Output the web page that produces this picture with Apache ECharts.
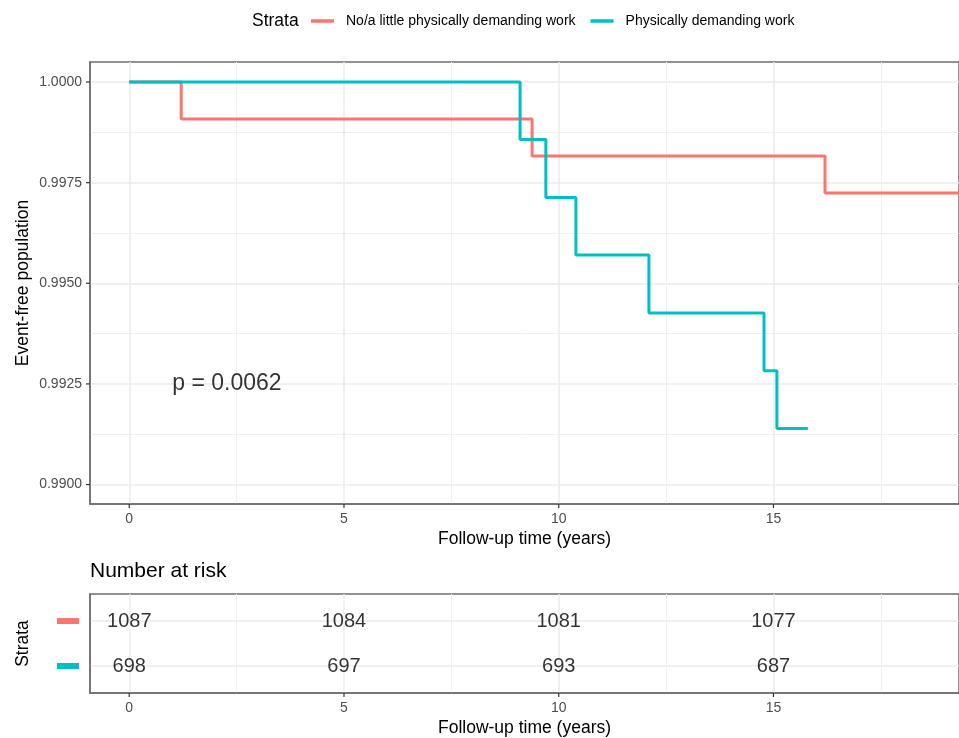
<!DOCTYPE html>
<html>
<head>
<meta charset="utf-8">
<script src="https://cdn.jsdelivr.net/npm/echarts@6/dist/echarts.min.js"></script>
<style>html,body{margin:0;padding:0;background:#fff}#c{width:959px;height:738px}</style>
</head>
<body>
<div id="c"></div>
<script>
const strataNames = ['No/a little physically demanding work', 'Physically demanding work'];
const strataColors = ['#F8766D', '#00BFC4'];
const xTicks = [0, 5, 10, 15];
const xMinorTicks = [2.5, 7.5, 12.5, 17.5];
const yTicks = [0.99, 0.9925, 0.995, 0.9975, 1.0];
const yMinorTicks = [0.99125, 0.99375, 0.99625, 0.99875];
const redTimes = [0, 1.21, 9.38, 16.2, 19.4];
const redSurv = [1.0, 0.99908, 0.99816, 0.99724, 0.99724];
const cyanTimes = [0, 9.1, 9.7, 10.4, 12.1, 14.78, 15.08, 15.8];
const cyanSurv = [1.0, 0.99857, 0.99713, 0.99570, 0.99426, 0.99283, 0.99139, 0.99139];
const pValueText = 'p = 0.0062';
const pValuePos = [1.0, 0.9925];
const riskTimes = [0, 5, 10, 15];
const riskRed = [1087, 1084, 1081, 1077];
const riskCyan = [698, 697, 693, 687];
const riskRows = [2, 1];

const FONT = 'Liberation Sans, Arial, Helvetica, sans-serif';
const X_MIN = -0.914, X_MAX = 19.32;
const Y_MIN = 0.989517, Y_MAX = 1.0004975;
const R_MIN = 0.4, R_MAX = 2.6;
const BORDER = '#6e6e6e';
const TICK = '#333333';
const TICK_LEN = 4;

function majorX(grid, withName) {
  return {
    type: 'value', gridIndex: grid, min: X_MIN, max: X_MAX, position: 'bottom',
    axisLine: {show: true, onZero: false, lineStyle: {color: BORDER, width: 1.5}},
    axisTick: {show: false, customValues: xTicks},
    axisLabel: {customValues: xTicks, margin: 8, fontSize: 14, color: '#4d4d4d', fontFamily: FONT},
    splitLine: {show: true, customValues: xTicks, lineStyle: {color: '#ebebeb', width: 1.5}},
    name: withName, nameLocation: 'middle', nameGap: 26, nameMoveOverlap: false,
    nameTextStyle: {color: '#000', fontSize: 17.5, fontFamily: FONT}
  };
}
function minorX(grid) {
  return {
    type: 'value', gridIndex: grid, min: X_MIN, max: X_MAX, position: 'bottom',
    axisLine: {show: false, onZero: false},
    axisTick: {show: false, customValues: xMinorTicks},
    axisLabel: {show: false, customValues: xMinorTicks},
    splitLine: {show: true, customValues: xMinorTicks, lineStyle: {color: '#f0f0f0', width: 1}}
  };
}
function xTickSeries(xAxisIndex, yAxisIndex, yBottom) {
  return {
    type: 'custom', xAxisIndex, yAxisIndex, clip: false, silent: true, z: 10,
    data: xTicks.map(v => [v, yBottom]),
    encode: {x: 0, y: 1},
    renderItem: (params, api) => {
      const c = api.coord([api.value(0), api.value(1)]);
      return {type: 'line', shape: {x1: c[0], y1: c[1], x2: c[0], y2: c[1] + TICK_LEN}, style: {stroke: TICK, lineWidth: 1.2}};
    }
  };
}

const chart = echarts.init(document.getElementById('c'), null, {renderer: 'canvas'});
const option = {
  animation: false,
  backgroundColor: '#fff',
  textStyle: {fontFamily: FONT},
  title: [
    {text: 'Strata', left: 252, top: 12, padding: 0, textStyle: {fontSize: 17.5, fontWeight: 'normal', color: '#000', fontFamily: FONT}},
    {text: 'Number at risk', left: 90, top: 561, padding: 0, textStyle: {fontSize: 21, fontWeight: 'normal', color: '#000', fontFamily: FONT}}
  ],
  legend: {
    data: strataNames, left: 311, top: 14, padding: 0, itemGap: 15,
    icon: 'rect', itemWidth: 23, itemHeight: 3.5,
    textStyle: {fontSize: 14, color: '#000', fontFamily: FONT, padding: [0, 0, 0, 7]}
  },
  grid: [
    {left: 90, top: 62, width: 872, height: 442, show: true, borderColor: BORDER, borderWidth: 1.5, backgroundColor: 'transparent'},
    {left: 90, top: 594, width: 872, height: 99, show: true, borderColor: BORDER, borderWidth: 1.5, backgroundColor: 'transparent'}
  ],
  xAxis: [
    majorX(0, 'Follow-up time (years)'), minorX(0),
    majorX(1, 'Follow-up time (years)'), minorX(1)
  ],
  yAxis: [
    {
      type: 'value', gridIndex: 0, min: Y_MIN, max: Y_MAX, position: 'left',
      axisLine: {show: true, onZero: false, lineStyle: {color: BORDER, width: 1.5}},
      axisTick: {show: false, customValues: yTicks},
      axisLabel: {customValues: yTicks, margin: 8, fontSize: 14, color: '#4d4d4d', fontFamily: FONT, formatter: v => v.toFixed(4)},
      splitLine: {show: true, customValues: yTicks, lineStyle: {color: '#ebebeb', width: 1.5}},
      name: 'Event-free population', nameLocation: 'middle', nameRotate: 90, nameGap: 58, nameMoveOverlap: false,
      nameTextStyle: {color: '#000', fontSize: 17.5, fontFamily: FONT}
    },
    {
      type: 'value', gridIndex: 0, min: Y_MIN, max: Y_MAX, position: 'left',
      axisLine: {show: false, onZero: false},
      axisTick: {show: false, customValues: yMinorTicks},
      axisLabel: {show: false, customValues: yMinorTicks},
      splitLine: {show: true, customValues: yMinorTicks, lineStyle: {color: '#f0f0f0', width: 1}}
    },
    {
      type: 'value', gridIndex: 1, min: R_MIN, max: R_MAX, position: 'left',
      axisLine: {show: true, onZero: false, lineStyle: {color: BORDER, width: 1.5}},
      axisTick: {show: false, customValues: riskRows},
      axisLabel: {
        customValues: riskRows, margin: 11,
        formatter: v => (v === 2 ? '{r| }' : '{c| }'),
        rich: {
          r: {backgroundColor: strataColors[0], width: 22, height: 6, lineHeight: 6, fontSize: 1},
          c: {backgroundColor: strataColors[1], width: 22, height: 6, lineHeight: 6, fontSize: 1}
        }
      },
      splitLine: {show: true, customValues: riskRows, lineStyle: {color: '#ebebeb', width: 1.5}},
      name: 'Strata', nameLocation: 'middle', nameRotate: 90, nameGap: 58, nameMoveOverlap: false,
      nameTextStyle: {color: '#000', fontSize: 17.5, fontFamily: FONT}
    }
  ],
  series: [
    {
      name: strataNames[0], type: 'line', xAxisIndex: 0, yAxisIndex: 0, step: 'end',
      showSymbol: false, symbol: 'none', clip: true, color: strataColors[0],
      lineStyle: {color: strataColors[0], width: 3},
      data: redTimes.map((t, i) => [t, redSurv[i]])
    },
    {
      name: strataNames[1], type: 'line', xAxisIndex: 0, yAxisIndex: 0, step: 'end',
      showSymbol: false, symbol: 'none', clip: true, color: strataColors[1],
      lineStyle: {color: strataColors[1], width: 3},
      data: cyanTimes.map((t, i) => [t, cyanSurv[i]])
    },
    {
      type: 'scatter', xAxisIndex: 0, yAxisIndex: 0, symbolSize: 0, silent: true,
      data: [pValuePos],
      label: {show: true, position: 'right', distance: 0, formatter: pValueText, fontSize: 23, color: '#000', fontFamily: FONT}
    },
    {
      type: 'scatter', xAxisIndex: 2, yAxisIndex: 2, symbolSize: 0, silent: true,
      data: riskTimes.map((t, i) => [t, riskRows[0], riskRed[i]]).concat(riskTimes.map((t, i) => [t, riskRows[1], riskCyan[i]])),
      label: {show: true, position: 'inside', formatter: p => String(p.value[2]), fontSize: 20, color: '#000', fontFamily: FONT}
    },
    xTickSeries(0, 0, Y_MIN),
    xTickSeries(2, 2, R_MIN),
    {
      type: 'custom', xAxisIndex: 0, yAxisIndex: 0, clip: false, silent: true, z: 10,
      data: yTicks.map(v => [X_MIN, v]),
      encode: {x: 0, y: 1},
      renderItem: (params, api) => {
        const c = api.coord([api.value(0), api.value(1)]);
        return {type: 'line', shape: {x1: c[0] - TICK_LEN, y1: c[1], x2: c[0], y2: c[1]}, style: {stroke: TICK, lineWidth: 1.2}};
      }
    }
  ]
};
chart.setOption(option);
</script>
</body>
</html>
